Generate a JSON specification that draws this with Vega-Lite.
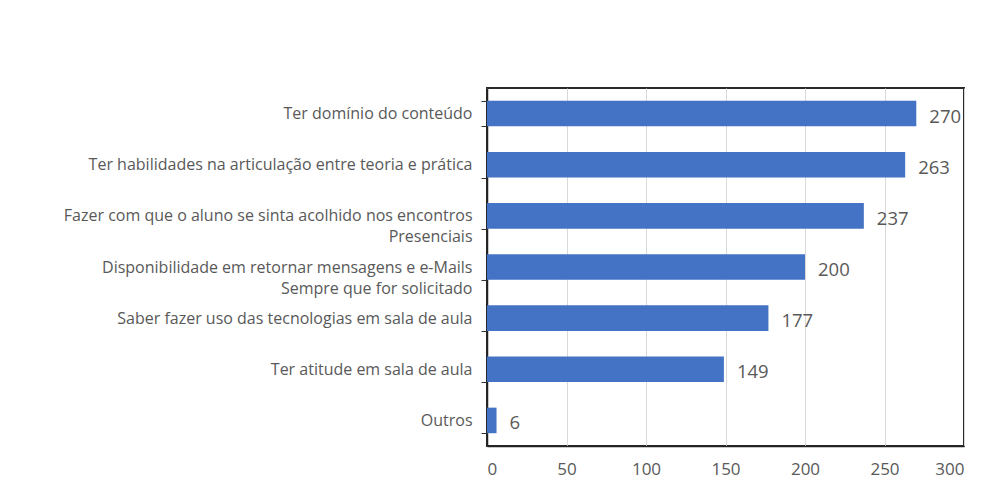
{
  "$schema": "https://vega.github.io/schema/vega-lite/v6.json",
  "width": 477,
  "height": 358,
  "autosize": {"type": "none"},
  "padding": {"left": 487, "top": 88, "right": 17, "bottom": 37},
  "background": "white",
  "data": {
    "values": [
      {"cat": "Ter domínio do conteúdo", "value": 270},
      {"cat": "Ter habilidades na articulação entre teoria e prática", "value": 263},
      {"cat": "Fazer com que o aluno se sinta acolhido nos encontros\nPresenciais", "value": 237},
      {"cat": "Disponibilidade em retornar mensagens e e-Mails\nSempre que for solicitado", "value": 200},
      {"cat": "Saber fazer uso das tecnologias em sala de aula", "value": 177},
      {"cat": "Ter atitude em sala de aula", "value": 149},
      {"cat": "Outros", "value": 6}
    ]
  },
  "encoding": {
    "y": {
      "field": "cat",
      "type": "nominal",
      "sort": null,
      "scale": {"paddingInner": 0.5, "paddingOuter": 0.25},
      "axis": {
        "title": null,
        "tickBand": "extent",
        "tickSize": 6,
        "tickColor": "#333333",
        "domainColor": "#222222",
        "domainWidth": 1.5,
        "labelPadding": 9,
        "labelFont": "Open Sans",
        "labelFontSize": 16,
        "labelColor": "#595959",
        "labelLimit": 600,
        "labelLineHeight": 21,
        "labelExpr": "split(datum.label, '\\n')"
      }
    },
    "x": {
      "field": "value",
      "type": "quantitative",
      "scale": {"domain": [0, 300], "nice": false},
      "axis": {
        "title": null,
        "values": [0, 50, 100, 150, 200, 250, 300],
        "grid": true,
        "gridColor": "#d9d9d9",
        "ticks": false,
        "domainColor": "#222222",
        "domainWidth": 1.5,
        "labelPadding": 15,
        "labelFont": "Open Sans",
        "labelFontSize": 17,
        "labelColor": "#595959"
      }
    }
  },
  "layer": [
    {"mark": {"type": "bar", "color": "#4472C4"}},
    {
      "mark": {"type": "text", "align": "left", "baseline": "middle", "dx": 13, "dy": 3, "font": "Open Sans", "fontSize": 18.5, "color": "#595959"},
      "encoding": {"text": {"field": "value", "type": "quantitative"}}
    }
  ],
  "config": {"view": {"stroke": "#2a2a2a", "strokeWidth": 2}}
}
